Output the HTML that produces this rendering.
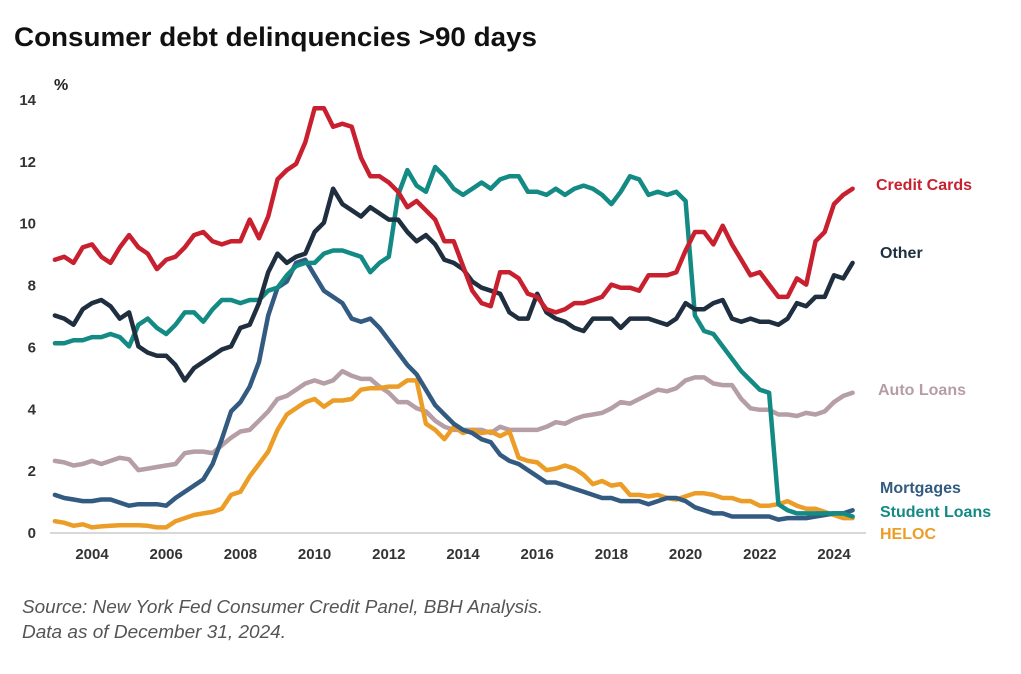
<!DOCTYPE html>
<html><head><meta charset="utf-8"><style>
body{margin:0;background:#fff;width:1021px;height:669px;overflow:hidden;font-family:"Liberation Sans",sans-serif}
</style></head><body>
<svg width="1021" height="669" viewBox="0 0 1021 669">
<text x="14" y="46" font-size="27" font-weight="bold" fill="#111" textLength="523" lengthAdjust="spacingAndGlyphs">Consumer debt delinquencies &gt;90 days</text>
<text x="54" y="90" font-size="16" font-weight="bold" fill="#222">%</text>
<g id="yt"></g><g id="xt"></g>
<line x1="50" y1="533" x2="866" y2="533" stroke="#ccc" stroke-width="1.5"/>
<g id="lines"></g>
<g font-size="16" font-weight="bold">
<text x="876" y="190" fill="#c8202f">Credit Cards</text>
<text x="880" y="258" fill="#1f2f3f">Other</text>
<text x="878" y="395" fill="#b59ea6">Auto Loans</text>
<text x="880" y="493" fill="#335a80">Mortgages</text>
<text x="880" y="517" fill="#138a84">Student Loans</text>
<text x="880" y="539" fill="#eb9d28">HELOC</text>
</g>
<text x="22" y="613" font-size="18" font-style="italic" fill="#555" textLength="521" lengthAdjust="spacingAndGlyphs">Source: New York Fed Consumer Credit Panel, BBH Analysis.</text>
<text x="22" y="638" font-size="18" font-style="italic" fill="#555" textLength="264" lengthAdjust="spacingAndGlyphs">Data as of December 31, 2024.</text>
</svg>
<script>
const yTicks=[0,2,4,6,8,10,12,14];
const xTicks=[2004,2006,2008,2010,2012,2014,2016,2018,2020,2022,2024];
const startYear=2003;
const creditCards=[8.8,8.9,8.7,9.2,9.3,8.9,8.7,9.2,9.6,9.2,9.0,8.5,8.8,8.9,9.2,9.6,9.7,9.4,9.3,9.4,9.4,10.1,9.5,10.2,11.4,11.7,11.9,12.6,13.7,13.7,13.1,13.2,13.1,12.1,11.5,11.5,11.3,11.0,10.5,10.7,10.4,10.1,9.4,9.4,8.6,7.8,7.4,7.3,8.4,8.4,8.2,7.7,7.6,7.2,7.1,7.2,7.4,7.4,7.5,7.6,8.0,7.9,7.9,7.8,8.3,8.3,8.3,8.4,9.1,9.7,9.7,9.3,9.9,9.3,8.8,8.3,8.4,8.0,7.6,7.6,8.2,8.0,9.4,9.7,10.6,10.9,11.1];
const other=[7.0,6.9,6.7,7.2,7.4,7.5,7.3,6.9,7.1,6.0,5.8,5.7,5.7,5.4,4.9,5.3,5.5,5.7,5.9,6.0,6.6,6.7,7.4,8.4,9.0,8.7,8.9,9.0,9.7,10.0,11.1,10.6,10.4,10.2,10.5,10.3,10.1,10.1,9.7,9.4,9.6,9.3,8.8,8.7,8.5,8.1,7.9,7.8,7.7,7.1,6.9,6.9,7.7,7.1,6.9,6.8,6.6,6.5,6.9,6.9,6.9,6.6,6.9,6.9,6.9,6.8,6.7,6.9,7.4,7.2,7.2,7.4,7.5,6.9,6.8,6.9,6.8,6.8,6.7,6.9,7.4,7.3,7.6,7.6,8.3,8.2,8.7];
const studentLoans=[6.1,6.1,6.2,6.2,6.3,6.3,6.4,6.3,6.0,6.7,6.9,6.6,6.4,6.7,7.1,7.1,6.8,7.2,7.5,7.5,7.4,7.5,7.5,7.8,7.9,8.3,8.6,8.7,8.7,9.0,9.1,9.1,9.0,8.9,8.4,8.7,8.9,10.9,11.7,11.2,11.0,11.8,11.5,11.1,10.9,11.1,11.3,11.1,11.4,11.5,11.5,11.0,11.0,10.9,11.1,10.9,11.1,11.2,11.1,10.9,10.6,11.0,11.5,11.4,10.9,11.0,10.9,11.0,10.7,7.0,6.5,6.4,6.0,5.6,5.2,4.9,4.6,4.5,0.9,0.7,0.6,0.6,0.6,0.6,0.6,0.6,0.5];
const mortgages=[1.2,1.1,1.05,1.0,1.0,1.05,1.05,0.95,0.85,0.9,0.9,0.9,0.85,1.1,1.3,1.5,1.7,2.2,3.0,3.9,4.2,4.7,5.5,7.0,7.9,8.1,8.7,8.8,8.3,7.8,7.6,7.4,6.9,6.8,6.9,6.6,6.2,5.8,5.4,5.1,4.6,4.1,3.8,3.5,3.3,3.2,3.0,2.9,2.5,2.3,2.2,2.0,1.8,1.6,1.6,1.5,1.4,1.3,1.2,1.1,1.1,1.0,1.0,1.0,0.9,1.0,1.1,1.1,1.0,0.8,0.7,0.6,0.6,0.5,0.5,0.5,0.5,0.5,0.4,0.45,0.45,0.45,0.5,0.55,0.6,0.6,0.7];
const autoLoans=[2.3,2.25,2.15,2.2,2.3,2.2,2.3,2.4,2.35,2.0,2.05,2.1,2.15,2.2,2.55,2.6,2.6,2.55,2.8,3.05,3.25,3.3,3.6,3.9,4.3,4.4,4.6,4.8,4.9,4.8,4.9,5.2,5.05,4.95,4.95,4.7,4.5,4.2,4.2,4.0,3.9,3.6,3.4,3.3,3.3,3.3,3.3,3.2,3.4,3.3,3.3,3.3,3.3,3.4,3.55,3.5,3.65,3.75,3.8,3.85,4.0,4.2,4.15,4.3,4.45,4.6,4.55,4.65,4.9,5.0,5.0,4.8,4.75,4.75,4.3,4.0,3.95,3.95,3.8,3.8,3.75,3.85,3.8,3.9,4.2,4.4,4.5];
const heloc=[0.35,0.3,0.2,0.25,0.15,0.18,0.2,0.22,0.22,0.22,0.2,0.15,0.15,0.35,0.45,0.55,0.6,0.65,0.75,1.2,1.3,1.8,2.2,2.6,3.3,3.8,4.0,4.2,4.3,4.05,4.25,4.25,4.3,4.6,4.65,4.65,4.7,4.7,4.9,4.9,3.5,3.3,3.0,3.4,3.2,3.3,3.2,3.25,3.1,3.25,2.4,2.3,2.25,2.0,2.05,2.15,2.05,1.85,1.55,1.65,1.5,1.55,1.2,1.2,1.15,1.2,1.1,1.05,1.15,1.25,1.25,1.2,1.1,1.1,1.0,1.0,0.85,0.85,0.9,1.0,0.85,0.75,0.75,0.65,0.55,0.45,0.45];
const NS='http://www.w3.org/2000/svg';
const xs=t=>92+(t-2004)*37.1;
const ys=v=>532-v*30.93;
const yt=document.getElementById('yt');
yTicks.forEach(v=>{const t=document.createElementNS(NS,'text');t.setAttribute('x',36);t.setAttribute('y',ys(v)+6);t.setAttribute('text-anchor','end');t.setAttribute('font-size','15');t.setAttribute('font-weight','bold');t.setAttribute('fill','#333');t.textContent=v;


yt.appendChild(t);});
const xt=document.getElementById('xt');
xTicks.forEach(v=>{const t=document.createElementNS(NS,'text');t.setAttribute('x',xs(v));t.setAttribute('y',559);t.setAttribute('text-anchor','middle');t.setAttribute('font-size','15');t.setAttribute('font-weight','bold');t.setAttribute('fill','#333');t.textContent=v;


xt.appendChild(t);});
const g=document.getElementById('lines');
function draw(arr,color,name){const p=document.createElementNS(NS,'polyline');
p.setAttribute('points',arr.map((v,i)=>xs(startYear+i/4).toFixed(1)+','+ys(v).toFixed(1)).join(' '));
p.setAttribute('fill','none');p.setAttribute('stroke',color);p.setAttribute('stroke-width','4.5');p.setAttribute('stroke-linejoin','round');p.setAttribute('stroke-linecap','round');


g.appendChild(p);}
draw(autoLoans,'#b59ea6','line-auto-loans');
draw(heloc,'#eb9d28','line-heloc');
draw(mortgages,'#335a80','line-mortgages');
draw(studentLoans,'#138a84','line-student-loans');
draw(other,'#1f2f3f','line-other');
draw(creditCards,'#c8202f','line-credit-cards');
</script>
</body></html>
